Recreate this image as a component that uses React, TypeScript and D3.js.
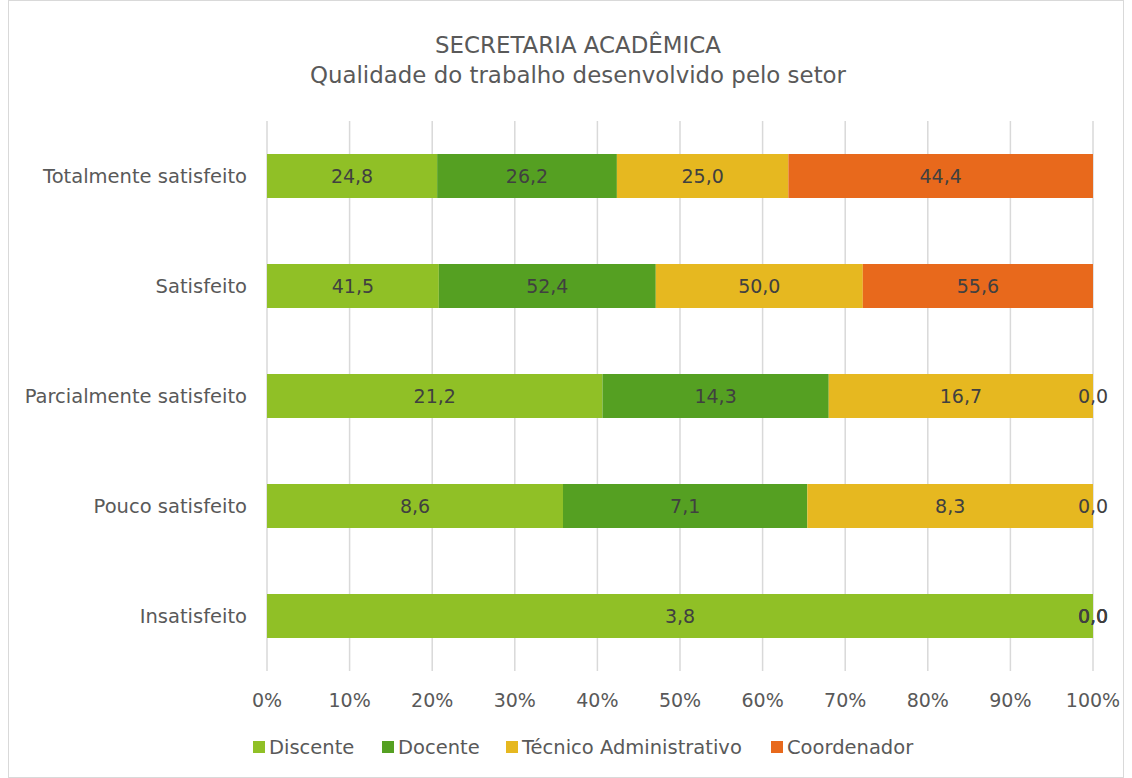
import React from "react";
import * as d3 from "d3";

const categories = ["Totalmente satisfeito", "Satisfeito", "Parcialmente satisfeito", "Pouco satisfeito", "Insatisfeito"];
const seriesNames = ["Discente", "Docente", "Técnico Administrativo", "Coordenador"];
const discente = [24.8, 41.5, 21.2, 8.6, 3.8];
const docente = [26.2, 52.4, 14.3, 7.1, 0.0];
const tecnico = [25.0, 50.0, 16.7, 8.3, 0.0];
const coordenador = [44.4, 55.6, 0.0, 0.0, 0.0];
const colors = ["#90c026", "#55a022", "#e6b820", "#e8691c"];
const xTicks = [0, 0.1, 0.2, 0.3, 0.4, 0.5, 0.6, 0.7, 0.8, 0.9, 1.0];

const W = 1132, H = 778;
const left = 267, right = 1093, top = 121, bottom = 671;
const FONT = "'DejaVu Sans', sans-serif";

export default function App() {
  const series = [discente, docente, tecnico, coordenador];
  const x = d3.scaleLinear().domain([0, 1]).range([left, right]);
  const y = d3.scaleBand().domain(categories).range([top, bottom]).paddingInner(0.6).paddingOuter(0.3);
  const fmt = (v: number) => v.toFixed(1).replace(".", ",");

  const rows = categories.map((c, i) => {
    const vals = series.map((s) => s[i]);
    const total = d3.sum(vals);
    let acc = 0;
    return vals.map((v, k) => {
      const x0 = acc / total;
      acc += v;
      const x1 = acc / total;
      return { c, k, v, x0, x1 };
    });
  });

  const legendItems = [
    { name: seriesNames[0], x: 253 },
    { name: seriesNames[1], x: 382 },
    { name: seriesNames[2], x: 506 },
    { name: seriesNames[3], x: 771 },
  ];

  return (
    <svg width={W} height={H} style={{ position: "absolute", left: 0, top: 0 }} fontFamily={FONT}>
      <rect x={0} y={0} width={W} height={H} fill="#fff" />
      <rect x={8.5} y={0.5} width={W - 17} height={H - 1} fill="none" stroke="#d9d9d9" />
      <text x={578} y={53} textAnchor="middle" fontSize={22.9} fill="#595959">SECRETARIA ACADÊMICA</text>
      <text x={578} y={83} textAnchor="middle" fontSize={22.9} fill="#595959">Qualidade do trabalho desenvolvido pelo setor</text>
      {xTicks.map((t) => (
        <line key={t} x1={x(t)} x2={x(t)} y1={top} y2={bottom} stroke="#d9d9d9" strokeWidth={1.5} />
      ))}
      {rows.map((r) =>
        r.map((s) => (
          <rect key={s.c + s.k} x={x(s.x0)} width={x(s.x1) - x(s.x0)} y={y(s.c)!} height={y.bandwidth()} fill={colors[s.k]} />
        ))
      )}
      {rows.map((r) =>
        r.map((s) => (
          <text key={"l" + s.c + s.k} x={(x(s.x0) + x(s.x1)) / 2} y={y(s.c)! + y.bandwidth() / 2} dy="0.35em" textAnchor="middle" fontSize={19} fill="#404040">
            {fmt(s.v)}
          </text>
        ))
      )}
      {categories.map((c) => (
        <text key={c} x={left - 20} y={y(c)! + y.bandwidth() / 2} dy="0.35em" textAnchor="end" fontSize={19.5} fill="#595959">{c}</text>
      ))}
      {xTicks.map((t) => (
        <text key={"t" + t} x={x(t)} y={700} dy="0.35em" textAnchor="middle" fontSize={19} fill="#595959">{Math.round(t * 100)}%</text>
      ))}
      {legendItems.map((l, i) => (
        <g key={l.name}>
          <rect x={l.x} y={741} width={12} height={12} fill={colors[i]} />
          <text x={l.x + 16} y={747} dy="0.35em" fontSize={19.5} fill="#595959">{l.name}</text>
        </g>
      ))}
    </svg>
  );
}
